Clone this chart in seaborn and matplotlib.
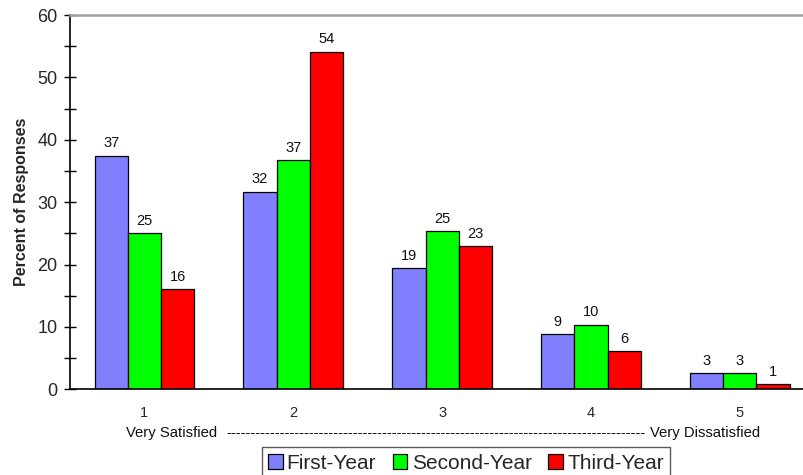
import matplotlib
matplotlib.use("Agg")
import matplotlib.pyplot as plt
from matplotlib.ticker import MultipleLocator
import seaborn as sns
import pandas as pd

# Survey results: percent of responses per satisfaction rating
ratings = ["1", "2", "3", "4", "5"]
cohorts = ["First-Year", "Second-Year", "Third-Year"]
first_year = [37.4, 31.7, 19.4, 8.8, 2.6]
second_year = [25.0, 36.7, 25.3, 10.3, 2.6]
third_year = [16.0, 54.1, 22.9, 6.1, 0.8]
colors = ["#8080FF", "#00FF00", "#FF0000"]

df = pd.DataFrame({
    "rating": ratings * 3,
    "pct": first_year + second_year + third_year,
    "cohort": [c for c in cohorts for _ in ratings],
})

sns.set_theme(style="white")
plt.rcParams["font.family"] = ["Liberation Sans", "DejaVu Sans"]

fig = plt.figure(figsize=(8.04, 4.75), dpi=100)
ax = fig.add_axes([70 / 804, 0.1804, 744.3 / 804, 0.788])

sns.barplot(data=df, x="rating", y="pct", hue="cohort", order=ratings,
            hue_order=cohorts, palette=colors, width=0.67, gap=0,
            edgecolor="black", linewidth=0.9, saturation=1, ax=ax)

for cont in ax.containers:
    ax.bar_label(cont, fmt="{:.0f}", padding=4, fontsize=10.5, color="#111111")

ax.set_xlim(-0.5, 4.5)
ax.set_ylim(0, 60)
ax.yaxis.set_major_locator(MultipleLocator(10))
ax.yaxis.set_minor_locator(MultipleLocator(5))
ax.tick_params(axis="y", which="both", direction="inout", length=8,
               width=1, color="black", left=True, labelsize=13, pad=5)
ax.tick_params(axis="x", length=0, labelsize=10.5, pad=12)
ax.set_xlabel("")
ax.set_ylabel("Percent of Responses", fontsize=11.5, fontweight="bold",
              labelpad=6)

for side in ["left", "bottom"]:
    ax.spines[side].set_color("black")
    ax.spines[side].set_linewidth(1.2)
ax.spines["right"].set_visible(False)
ax.spines["top"].set_color("#A0A0A0")
ax.spines["top"].set_linewidth(1.8)

# Scale annotation below the rating labels
y_txt = 1 - 433 / 475
fig.text(216.7 / 804, y_txt, "Very Satisfied", ha="right", va="center",
         fontsize=10.7, color="#111111")
fig.text(436 / 804, y_txt, "-" * 86, ha="center", va="center",
         fontsize=10.7, color="#111111")
fig.text(650 / 804, y_txt, "Very Dissatisfied", ha="left", va="center",
         fontsize=10.7, color="#111111")

handles, labels = ax.get_legend_handles_labels()
ax.get_legend().remove()
leg = fig.legend(handles, labels, loc="upper left",
                 bbox_to_anchor=(261.7 / 804, 1 - 447.3 / 475),
                 ncol=3, fontsize=15, frameon=True, fancybox=False,
                 borderaxespad=0, handlelength=0.7, handleheight=0.7,
                 handletextpad=0.2, columnspacing=0.8, borderpad=0.3)
leg.get_frame().set_edgecolor("#333333")
leg.get_frame().set_linewidth(1.0)

fig.savefig("out.png", dpi=100)
